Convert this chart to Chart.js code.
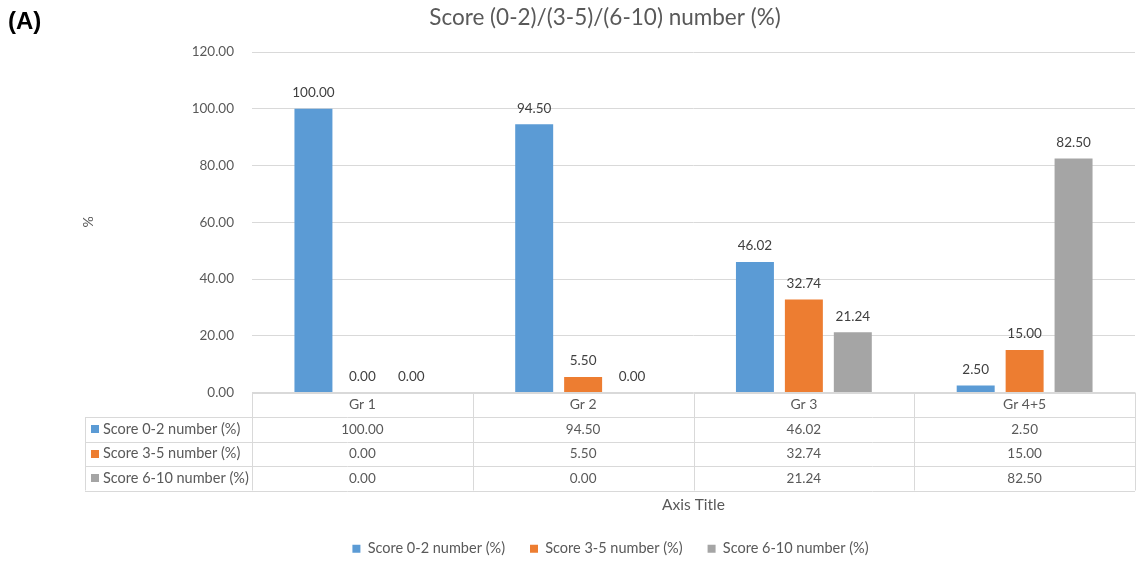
<!DOCTYPE html>
<html>
<head>
<meta charset="utf-8">
<script src="https://cdn.jsdelivr.net/npm/chart.js@4.4.0/dist/chart.umd.min.js"></script>
<style>
  html, body { margin: 0; padding: 0; background: #fff; }
  #wrap { width: 1136px; height: 561px; position: relative; }
</style>
</head>
<body>
<div id="wrap"><canvas id="chart"></canvas></div>
<script>
// data
const groups = ['Gr 1', 'Gr 2', 'Gr 3', 'Gr 4+5'];
const score02 = [100.00, 94.50, 46.02, 2.50];
const score35 = [0.00, 5.50, 32.74, 15.00];
const score610 = [0.00, 0.00, 21.24, 82.50];
const seriesNames = ['Score 0-2 number (%)', 'Score 3-5 number (%)', 'Score 6-10 number (%)'];
const seriesColors = ['#5B9BD5', '#ED7D31', '#A5A5A5'];
const yMin = 0, yMax = 120, yStep = 20;

const FONT = 'Lato';
const TXT = '#595959';
const LINE = '#D9D9D9';

// title, panel letter and y-axis caption
const captions = {
  id: 'captions',
  afterDraw(chart) {
    const ctx = chart.ctx;
    ctx.save();
    ctx.fillStyle = '#000';
    ctx.font = 'bold 24px "Liberation Sans"';
    ctx.textAlign = 'left'; ctx.textBaseline = 'middle';
    ctx.fillText('(A)', 8, 22);

    ctx.fillStyle = TXT;
    ctx.font = '22.5px ' + FONT;
    ctx.textAlign = 'center';
    ctx.fillText('Score (0-2)/(3-5)/(6-10) number (%)', 605, 18);

    ctx.font = '14px ' + FONT;
    ctx.translate(88, 222);
    ctx.rotate(-Math.PI / 2);
    ctx.fillText('%', 0, 0);
    ctx.restore();
  }
};

// the legend sits a bit right of the canvas centre, like the title
const legendShift = {
  id: 'legendShift',
  afterLayout(chart) {
    if (chart.legend) { chart.legend.left += 43; chart.legend.right += 43; }
  }
};

// value labels above each bar
const barLabels = {
  id: 'barLabels',
  afterDatasetsDraw(chart) {
    const ctx = chart.ctx;
    ctx.save();
    ctx.font = '13.5px ' + FONT;
    ctx.fillStyle = '#404040';
    ctx.textAlign = 'center'; ctx.textBaseline = 'middle';
    chart.data.datasets.forEach((ds, i) => {
      chart.getDatasetMeta(i).data.forEach((bar, j) => {
        ctx.fillText(ds.data[j].toFixed(2), bar.x, bar.y - 16);
      });
    });
    ctx.restore();
  }
};

// Excel style data table under the plot
const dataTable = {
  id: 'dataTable',
  afterDraw(chart) {
    const { ctx, chartArea: a } = chart;
    const n = groups.length;
    const colW = (a.right - a.left) / n;
    const top = a.bottom;
    const rowH = 24.5;
    const labelLeft = 85;
    const rows = [score02, score35, score610];
    const bottom = top + rowH * (rows.length + 1);
    const px = v => Math.round(v) + 0.5;

    ctx.save();
    ctx.strokeStyle = LINE;
    ctx.lineWidth = 1;
    ctx.beginPath();
    ctx.moveTo(a.left, px(top)); ctx.lineTo(a.right, px(top));
    for (let r = 1; r <= rows.length + 1; r++) {
      const y = px(top + rowH * r);
      ctx.moveTo(labelLeft, y); ctx.lineTo(a.right, y);
    }
    for (let c = 0; c <= n; c++) {
      const x = px(a.left + colW * c);
      ctx.moveTo(x, top); ctx.lineTo(x, bottom);
    }
    ctx.moveTo(px(labelLeft), top + rowH); ctx.lineTo(px(labelLeft), bottom);
    ctx.stroke();

    ctx.fillStyle = TXT;
    ctx.textBaseline = 'middle';
    ctx.textAlign = 'center';
    groups.forEach((g, c) => {
      const cx = a.left + colW * (c + 0.5);
      ctx.font = '14px ' + FONT;
      ctx.fillText(g, cx, top + rowH / 2);
      ctx.font = '13.5px ' + FONT;
      rows.forEach((vals, r) => {
        ctx.fillText(vals[c].toFixed(2), cx, top + rowH * (r + 1.5));
      });
    });
    ctx.textAlign = 'left';
    ctx.font = '14.5px ' + FONT;
    rows.forEach((vals, r) => {
      const cy = top + rowH * (r + 1.5);
      ctx.fillStyle = seriesColors[r];
      ctx.fillRect(91, Math.round(cy - 4), 8, 8);
      ctx.fillStyle = TXT;
      ctx.fillText(seriesNames[r], 103, cy);
    });
    ctx.restore();
  }
};

const makeSet = (i, data) => ({
  label: seriesNames[i],
  data: data,
  backgroundColor: seriesColors[i],
  borderWidth: 0,
  categoryPercentage: 0.665,
  barPercentage: 0.776
});

new Chart(document.getElementById('chart'), {
  type: 'bar',
  data: {
    labels: groups,
    datasets: [makeSet(0, score02), makeSet(1, score35), makeSet(2, score610)]
  },
  options: {
    responsive: true,
    maintainAspectRatio: false,
    animation: false,
    devicePixelRatio: 1,
    layout: { padding: { top: 52, right: 1, left: 0, bottom: -5 } },
    plugins: {
      title: { display: false },
      tooltip: { enabled: false },
      legend: {
        position: 'bottom',
        labels: {
          boxWidth: 8, boxHeight: 8, padding: 25,
          color: TXT, font: { family: FONT, size: 14.5 }
        }
      }
    },
    scales: {
      x: {
        grid: { display: false },
        border: { display: false },
        ticks: { display: false },
        title: {
          display: true, text: 'Axis Title', color: TXT,
          font: { family: FONT, size: 15.5 }, padding: { top: 0, bottom: 2 }
        },
        afterFit(s) { s.height = 124; }
      },
      y: {
        min: yMin, max: yMax,
        border: { display: false },
        grid: { color: LINE, drawTicks: false },
        ticks: {
          stepSize: yStep, padding: 18, color: TXT,
          font: { family: FONT, size: 13.5 },
          callback: v => Number(v).toFixed(2)
        },
        afterFit(s) { s.width = 252; }
      }
    }
  },
  plugins: [captions, legendShift, barLabels, dataTable]
});
</script>
</body>
</html>
